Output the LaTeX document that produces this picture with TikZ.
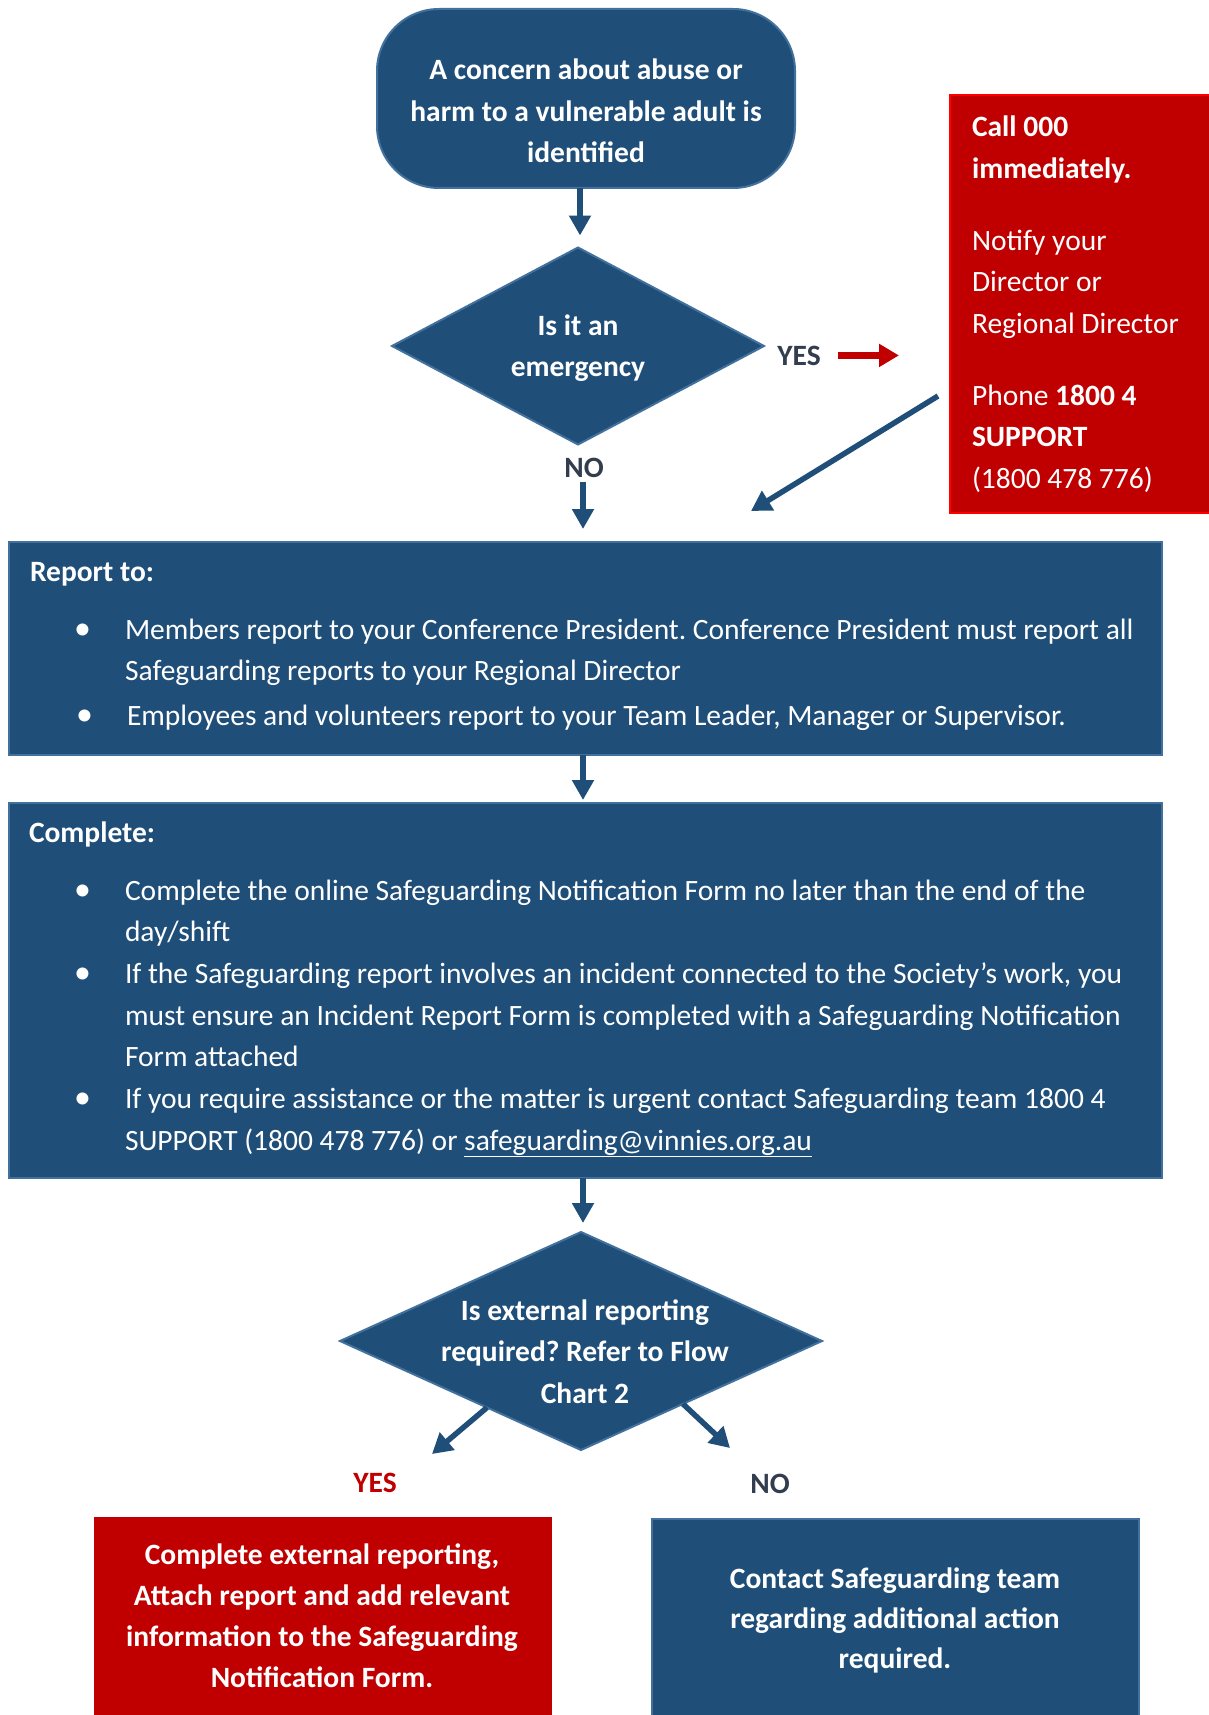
\documentclass[tikz,border=0pt]{standalone}
\usepackage{fontspec}
\setmainfont{Carlito}
\usetikzlibrary{arrows.meta,shapes.geometric,calc}
\definecolor{myblue}{HTML}{1F4E79}
\definecolor{myborder}{HTML}{41719C}
\definecolor{myred}{HTML}{C00000}
\definecolor{brightred}{HTML}{FF0000}
\definecolor{labelgray}{HTML}{323E4F}
\frenchspacing
\newcommand{\bodyfont}{\fontsize{29.5}{41.5}\selectfont}
\newcommand{\mytext}[2]{\begin{minipage}[t]{#1}\centering\bodyfont #2\end{minipage}}
\newcommand{\mybullet}[1]{\noindent\llap{\scalebox{1.15}{•}\hspace{#1}}}
\begin{document}
\begin{tikzpicture}[x=1pt,y=-1pt,
  every node/.style={inner sep=0pt,outer sep=0pt},
  bluebox/.style={rectangle,fill=myblue,draw=myborder,line width=2.5pt},
  redbox/.style={rectangle,fill=myred,draw=brightred,line width=2pt},
  decision/.style={diamond,fill=myblue,draw=myborder,line width=2pt},
  txt/.style={text=white,font=\bodyfont},
  lbl/.style={font={\bodyfont\bfseries},text=labelgray},
  arr/.style={draw=myblue,line width=6pt,-{Triangle[length=20pt,width=21pt]}},
  darr/.style={draw=myblue,line width=5.5pt,-{Triangle[length=20pt,width=22pt]}},
  redarr/.style={draw=myred,line width=7pt,-{Triangle[length=20pt,width=22pt]}}]
\useasboundingbox[fill=white] (0,0) rectangle (1209,1715);

% start terminal
\node[bluebox,line width=2pt,rounded corners=62pt,minimum width=418pt,minimum height=179pt,anchor=north west] (start) at (377,9) {};
\node[txt,anchor=base] (starttxt) at (586,80) {\mytext{400pt}{\bfseries A concern about abuse or\\ harm to a vulnerable adult is\\ identified}};

% emergency decision
\node[decision,minimum width=372pt,minimum height=197pt] (emerg) at (578,346) {};
\node[txt,anchor=base] (emergtxt) at (578,335) {\mytext{220pt}{\bfseries Is it an\\ emergency}};
\node[lbl,anchor=base] (yes1) at (799,365) {YES};
\node[lbl,anchor=base] (no1) at (584,477) {NO};

% emergency box
\node[redbox,minimum width=264pt,minimum height=418pt,anchor=north west] (call) at (950,95) {};
\node[txt,anchor=base west] (calltxt) at (972,137) {\begin{minipage}[t]{236pt}\raggedright\bodyfont
\textbf{Call 000\\ immediately.}\par\vspace{30.5pt}
Notify your\\ Director or\\ Regional Director\par\vspace{30.5pt}
Phone \textbf{1800 4\\ SUPPORT}\\ (1800 478 776)\end{minipage}};

% report box
\node[bluebox,minimum width=1153pt,minimum height=213pt,anchor=north west] (report) at (9,542) {};
\node[txt,anchor=base west,font={\bodyfont\bfseries}] (reporthead) at (30,581) {Report to:};
\node[txt,anchor=base west] (reportlist) at (125,639) {\begin{minipage}[t]{1040pt}\raggedright\bodyfont
\mybullet{34pt}Members report to your Conference President. Conference President must report all\\ Safeguarding reports to your Regional Director\par\vspace{3pt}
\noindent\hspace*{2pt}\mybullet{34pt}Employees and volunteers report to your Team Leader, Manager or Supervisor.\end{minipage}};

% complete box
\node[bluebox,minimum width=1153pt,minimum height=375pt,anchor=north west] (complete) at (9,803) {};
\node[txt,anchor=base west,font={\bodyfont\bfseries}] (completehead) at (29,842) {Complete:};
\node[txt,anchor=base west] (completelist) at (125,900) {\begin{minipage}[t]{1040pt}\raggedright\fontsize{29.5}{41.67}\selectfont
\mybullet{34pt}Complete the online Safeguarding Notification Form no later than the end of the\\ day/shift\par
\mybullet{34pt}If the Safeguarding report involves an incident connected to the Society’s work, you\\ must ensure an Incident Report Form is completed with a Safeguarding Notification\\ Form attached\par
\mybullet{34pt}If you require assistance or the matter is urgent contact Safeguarding team 1800 4\\ SUPPORT (1800 478 776) or \underline{safeguarding@vinnies.org.au}\end{minipage}};

% external decision
\node[decision,minimum width=482pt,minimum height=218pt] (ext) at (581,1341) {};
\node[txt,anchor=base] (exttxt) at (585,1320) {\mytext{360pt}{\bfseries Is external reporting\\ required? Refer to Flow\\ Chart 2}};
\node[lbl,text=myred,anchor=base] (yes2) at (375,1492) {YES};
\node[lbl,anchor=base] (no2) at (770,1493) {NO};

% outcome boxes
\node[rectangle,fill=myred,draw=myred,line width=1pt,minimum width=457pt,minimum height=215pt,anchor=north west] (extyes) at (94,1517) {};
\node[txt,anchor=base] (extyestxt) at (322,1564) {\begin{minipage}[t]{440pt}\centering\fontsize{29.5}{41.3}\selectfont\bfseries Complete external reporting,\\ Attach report and add relevant\\ information to the Safeguarding\\ Notification Form.\end{minipage}};
\node[bluebox,minimum width=487pt,minimum height=215pt,anchor=north west] (extno) at (652,1519) {};
\node[txt,anchor=base] (extnotxt) at (895,1588) {\begin{minipage}[t]{460pt}\centering\fontsize{29.5}{40}\selectfont\bfseries Contact Safeguarding team\\ regarding additional action\\ required.\end{minipage}};

% free ends
\coordinate (diagend) at (751,511);
\coordinate (yestip) at (432,1454);
\coordinate (notip) at (730,1448);

% connectors
\draw[arr] ([xshift=-6pt]start.south) -- ([xshift=2pt,yshift=12pt]emerg.north);
\draw[redarr] ([xshift=17pt]yes1.east) -- ($(call.west |- yes1.east)+(-51,0)$);
\draw[darr] ($(call.west)+(-12,92)$) -- (diagend);
\draw[arr] ($(no1.south)+(-1,5)$) -- ($(no1.south |- report.north)+(-1,-13)$);
\draw[arr] ($(report.south)+(-2.5,0)$) -- ($(complete.north)+(-2.5,-3)$);
\draw[arr] ($(complete.south)+(-2.5,0)$) -- ($(ext.north)+(2,-9)$);
\draw[darr] ($(ext.west)!0.61!(ext.south)$) -- (yestip);
\draw[darr] ($(ext.south)!0.423!(ext.east)$) -- (notip);
\end{tikzpicture}
\end{document}
